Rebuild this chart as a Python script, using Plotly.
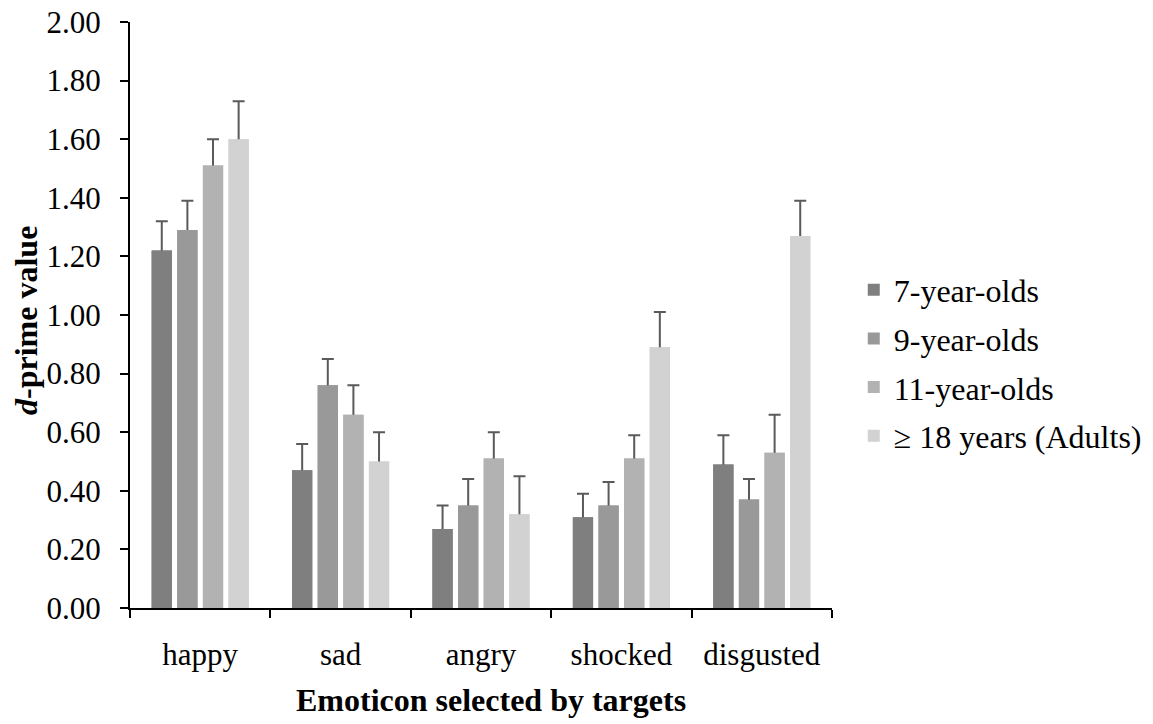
import plotly.graph_objects as go

categories = ["happy", "sad", "angry", "shocked", "disgusted"]
series_names = ["7-year-olds", "9-year-olds", "11-year-olds", "\u2265 18 years (Adults)"]

values_7 = [1.22, 0.47, 0.27, 0.31, 0.49]
values_9 = [1.29, 0.76, 0.35, 0.35, 0.37]
values_11 = [1.51, 0.66, 0.51, 0.51, 0.53]
values_adult = [1.60, 0.50, 0.32, 0.89, 1.27]

err_7 = [0.10, 0.09, 0.08, 0.08, 0.10]
err_9 = [0.10, 0.09, 0.09, 0.08, 0.07]
err_11 = [0.09, 0.10, 0.09, 0.08, 0.13]
err_adult = [0.13, 0.10, 0.13, 0.12, 0.12]

y_ticks = [0.0, 0.2, 0.4, 0.6, 0.8, 1.0, 1.2, 1.4, 1.6, 1.8, 2.0]

colors = ["#7f7f7f", "#999999", "#b2b2b2", "#d2d2d2"]
all_values = [values_7, values_9, values_11, values_adult]
all_errs = [err_7, err_9, err_11, err_adult]

FONT = "Liberation Serif, Times New Roman, serif"
tick_font = dict(family=FONT, size=31, color="black")
title_font = dict(family=FONT, size=32, color="black")

fig = go.Figure()
# error bars first (symmetric; lower half hidden under the bars drawn afterwards)
for i, name in enumerate(series_names):
    fig.add_trace(go.Bar(
        x=categories, y=all_values[i], offsetgroup=str(i),
        showlegend=False, hoverinfo="skip",
        marker=dict(color=colors[i], line=dict(width=0)),
        error_y=dict(type="data", array=all_errs[i], symmetric=True,
                     color="#5a5a5a", thickness=2, width=6),
    ))
for i, name in enumerate(series_names):
    fig.add_trace(go.Bar(
        x=categories, y=all_values[i], name=name, offsetgroup=str(i),
        legendgroup=f"g{i}",
        marker=dict(color=colors[i], line=dict(width=0)),
    ))

fig.update_layout(
    width=1153, height=724,
    margin=dict(l=130, r=321, t=22, b=116, autoexpand=False),
    paper_bgcolor="white", plot_bgcolor="white",
    barmode="group", bargap=0.27, bargroupgap=0.21,
    font=dict(family=FONT, size=31, color="black"),
    legend=dict(x=1.031, xanchor="left", y=0.418, yanchor="middle",
                font=dict(family=FONT, size=32, color="black"),
                tracegroupgap=4, bgcolor="rgba(0,0,0,0)"),
    xaxis=dict(
        type="category", range=[-0.5, 4.5], tickson="boundaries",
        showline=True, linecolor="black", linewidth=2,
        ticks="outside", ticklen=8, tickwidth=1.5, tickcolor="black",
        ticklabelstandoff=18,
        tickfont=tick_font,
        showgrid=False, zeroline=False,
    ),
    yaxis=dict(
        range=[0, 2.0001], tickvals=y_ticks, tickformat=".2f",
        showline=True, linecolor="black", linewidth=2,
        ticks="outside", ticklen=8, tickwidth=1.5, tickcolor="black",
        ticklabelstandoff=13, ticklabeloverflow="allow",
        tickfont=tick_font,
        showgrid=False, zeroline=False,
    ),
    annotations=[
        dict(text="<b>Emoticon selected by targets</b>", font=title_font,
             xref="paper", yref="paper", x=0.514, y=-0.157,
             xanchor="center", yanchor="middle", showarrow=False),
        dict(text="<b><i>d</i>-prime value</b>", font=title_font, textangle=-90,
             xref="paper", yref="paper", x=-0.148, y=0.49,
             xanchor="center", yanchor="middle", showarrow=False),
    ],
)

fig.write_html("out.html", config={"displayModeBar": False},
               post_script="document.body.style.margin='0';")
